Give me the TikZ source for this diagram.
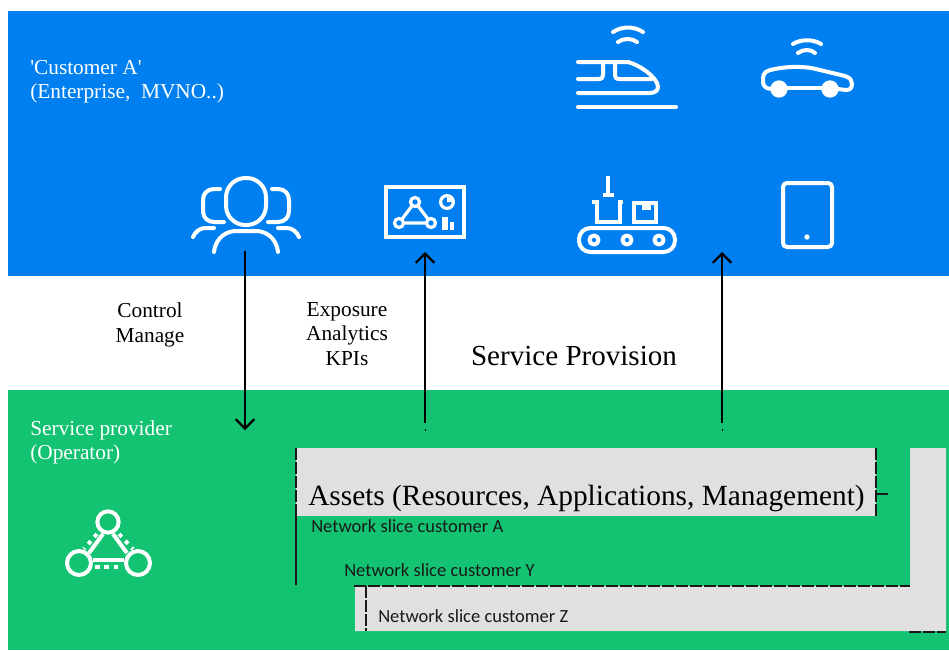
\documentclass[tikz,border=0pt]{standalone}
\usepackage{fontspec}
\setmainfont{Liberation Serif}
\newfontfamily\slicefont{Carlito}
\usetikzlibrary{arrows.meta}
\definecolor{custblue}{HTML}{0080F0}
\definecolor{provgreen}{HTML}{13C372}
\definecolor{assetgray}{HTML}{E0E0E0}
\tikzset{
	iconline/.style={draw=white,line width=3pt,line cap=round,line join=round},
	iconthin/.style={draw=white,line width=2.4pt,line cap=round,line join=round},
	iconfill/.style={fill=white,draw=none},
	lighttext/.style={text=white,font=\fontsize{16}{18}\selectfont,align=left,anchor=west,inner sep=0pt},
	darktext/.style={text=black,font=\fontsize{16}{18.4}\selectfont,align=center,inner sep=0pt},
	slicetext/.style={text=black!90,font=\slicefont\fontsize{13.9}{16}\selectfont,anchor=west,inner sep=0pt},
	flow/.style={-{Straight Barb[length=7pt,width=14pt]},line width=1.6pt,black},
	sliceline/.style={black!90,line width=2pt},
	slicedash/.style={sliceline,dash pattern=on 9pt off 1.5pt},
}
\begin{document}
\begin{tikzpicture}[x=0.75pt,y=-0.75pt]
	\useasboundingbox (0,0) rectangle (949,650);
	
	% bands
	\fill[custblue] (8,11) rectangle (949,276);
	\fill[provgreen] (8,390) rectangle (949,650);
	\fill[assetgray] (296,448) rectangle (876,516);
	\fill[assetgray] (910,448) -- (946,448) -- (946,631) -- (355,631) -- (355,586) -- (910,586) -- cycle;
	
	% train
	\draw[iconline] (578,62) -- (628,62) .. controls (640,65) and (658,78) .. (658,87) .. controls (658,91) and (654,93) .. (650,93) -- (578,93);
	\draw[iconline] (578,79) -- (598,79) .. controls (602,79) and (603,78) .. (603,75) -- (603,62);
	\draw[iconline] (615,62) -- (615,75) .. controls (615,78) and (616,79) .. (620,79) -- (652,79);
	\draw[iconline] (578,107) -- (676,107);
	\draw[iconline] (613,32) .. controls (622,26) and (634,26) .. (643,32);
	\draw[iconline] (618,42) .. controls (623,38) and (632,38) .. (637,42);
	
	% car
	\draw[iconline] (772,89) .. controls (766,89) and (763,86) .. (763,82) -- (763,78) .. controls (763,72) and (768,70) .. (775,69) .. controls (790,66) and (806,66) .. (820,70) -- (845,76) .. controls (851,78) and (852,81) .. (852,84) .. controls (852,88) and (850,90) .. (846,90) -- (838,89);
	\draw[iconline] (785,88) -- (825,88);
	\fill[iconfill] (779,89) circle[radius=6.5pt];
	\fill[iconfill] (830,89) circle[radius=6.5pt];
	\draw[iconline] (793,44) .. controls (801,39) and (813,39) .. (821,44);
	\draw[iconline] (798,53) .. controls (803,49) and (811,49) .. (815,53);
	
	% people
	\draw[iconline,rounded corners=14.5pt] (226,178) rectangle (266,225);
	\draw[iconline] (193,237) .. controls (195,232) and (200,228) .. (205,228) -- (214,228);
	\draw[iconline] (299,237) .. controls (297,232) and (292,228) .. (287,228) -- (278,228);
	\draw[iconline] (214,252) .. controls (216,236) and (228,231) .. (236,231) -- (256,231) .. controls (264,231) and (276,236) .. (278,252);
	\draw[iconline] (220,189) -- (214,189) .. controls (207,189) and (203,194) .. (203,200) -- (203,211) .. controls (203,218) and (208,222) .. (214,222) -- (224,222);
	\draw[iconline] (272,189) -- (278,189) .. controls (285,189) and (289,194) .. (289,200) -- (289,211) .. controls (289,218) and (284,222) .. (278,222) -- (268,222);
	
	% dashboard
	\draw[iconline,line cap=butt,line join=miter] (386,187) rectangle (464,237);
	\draw[iconthin] (415,202) -- (399,223) -- (431,223) -- cycle;
	\draw[iconthin,fill=custblue] (415,202) circle[radius=3.4pt];
	\draw[iconthin,fill=custblue] (399,223) circle[radius=3.4pt];
	\draw[iconthin,fill=custblue] (431,223) circle[radius=3.4pt];
	\draw[iconthin] (447,202) circle[radius=4.8pt];
	\fill[iconfill] (447,202) -- (447,197) arc[start angle=90,end angle=0,radius=3.8pt] -- cycle;
	\fill[iconfill] (442,217) rectangle (448,230);
	\fill[iconfill] (450,222) rectangle (454,230);
	
	% conveyor
	\draw[iconline,line cap=butt] (608,176) -- (608,193);
	\fill[iconfill] (603,193) rectangle (614,197);
	\draw[iconline,line cap=butt,line join=miter] (592,202) -- (597,202) -- (597,222) -- (620,222) -- (620,202) -- (623,202);
	\draw[iconline,line join=miter] (634,203) rectangle (656,222);
	\fill[iconfill] (642,203) rectangle (651,210);
	\draw[iconline,rounded corners=8.5pt] (579,228) rectangle (675,252);
	\draw[iconline] (594,240) circle[radius=3.4pt];
	\draw[iconline] (627,240) circle[radius=3.4pt];
	\draw[iconline] (659,240) circle[radius=3.4pt];
	
	% tablet
	\draw[iconline,rounded corners=3pt] (783,183) rectangle (832,247);
	\fill[iconfill] (807,237) circle[radius=2pt];
	
	% operator
	\draw[iconline] (108,522) circle[radius=8pt];
	\draw[iconline] (79,563) circle[radius=9pt];
	\draw[iconline] (138,563) circle[radius=9pt];
	\draw[iconline,line cap=butt] (103,534) -- (89,553);
	\draw[iconline,line cap=butt] (113,534) -- (127,553);
	\draw[iconline,line cap=butt] (93,560) -- (124,560);
	\draw[iconline,line cap=butt,dash pattern=on 3pt off 4pt] (97,534) -- (84,549);
	\draw[iconline,line cap=butt,dash pattern=on 3pt off 4pt] (119,534) -- (133,549);
	\draw[iconline,line cap=butt,dash pattern=on 3.5pt off 3.5pt] (95,567) -- (122,567);
	
	% texts
	\node[lighttext] (customer) at (30,81.5) {\textquotesingle Customer A\textquotesingle\\(Enterprise,\ \ MVNO..)};
	\node[lighttext] (provider) at (30,442) {Service provider\\(Operator)};
	\node[darktext] (control) at (150,325) {Control\\Manage};
	\node[darktext] (exposure) at (347,334) {Exposure\\Analytics\\KPIs};
	\node[text=black,inner sep=0pt,font=\fontsize{21.8}{24}\selectfont] (provision) at (574,356) {Service Provision};
	\node[text=black,inner sep=0pt,anchor=west,font=\fontsize{22}{24}\selectfont] (assets) at (308,498) {Assets (Resources, Applications, Management)};
	\node[slicetext] (slicea) at (311,526) {Network slice customer A};
	\node[slicetext] (slicey) at (344,570) {Network slice customer Y};
	\node[slicetext] (slicez) at (378,616) {Network slice customer Z};
	
	% anchor points of the flows
	\coordinate (manageend) at (245,430);
	\coordinate (managestart) at (245,251);
	\coordinate (exposestart) at (425,423);
	\coordinate (exposeend) at (425,252);
	\coordinate (servestart) at (722,423);
	\coordinate (serveend) at (722,252);
	\coordinate (exposetick) at (425,429);
	\coordinate (exposetickb) at (425,431);
	\coordinate (servetick) at (722,429);
	\coordinate (servetickb) at (722,431);
	
	\path[flow] (managestart) edge (manageend);
	\path[flow] (exposestart) edge (exposeend);
	\path[flow] (servestart) edge (serveend);
	\path[black,line width=0.6pt] (exposetick) edge (exposetickb);
	\path[black,line width=0.6pt] (servetick) edge (servetickb);
	
	% slice outlines
	\coordinate (assettl) at (296,448);
	\coordinate (assetbl) at (296,516);
	\coordinate (slicebl) at (296,585);
	\coordinate (assettr) at (876,448);
	\coordinate (assetbr) at (876,517);
	\coordinate (assetmid) at (876,494);
	\coordinate (assetstub) at (888,494);
	\coordinate (ytl) at (354,586);
	\coordinate (ytr) at (910,586);
	\coordinate (ztl) at (366,586);
	\coordinate (zbl) at (366,631);
	\coordinate (zbra) at (909,632);
	\coordinate (zbrb) at (946,632);
	
	\path[slicedash] (assettl) edge (assetbl);
	\path[sliceline] (assetbl) edge (slicebl);
	\path[slicedash] (assettr) edge (assetbr);
	\path[sliceline] (assetmid) edge (assetstub);
	\path[slicedash] (ytl) edge (ytr);
	\path[slicedash] (ztl) edge (zbl);
	\path[slicedash] (zbra) edge (zbrb);
	
	\end{tikzpicture}
\end{document}
